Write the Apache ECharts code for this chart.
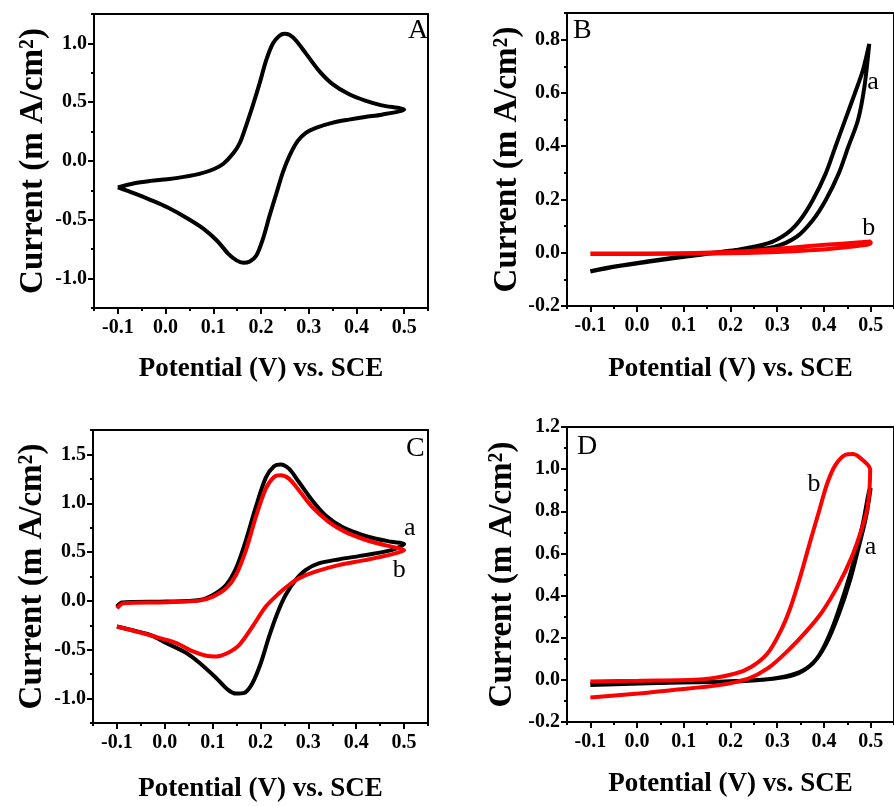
<!DOCTYPE html>
<html>
<head>
<meta charset="utf-8">
<script src="https://cdn.jsdelivr.net/npm/echarts@6/dist/echarts.min.js"></script>
<style>html,body{margin:0;padding:0;background:#fff;}#c{width:894px;height:806px;}</style>
</head>
<body>
<div id="c"></div>
<script>
// ---------- data ----------
const panelNames = ['A', 'B', 'C', 'D'];
const xTicks = [-0.1, 0.0, 0.1, 0.2, 0.3, 0.4, 0.5];
const xMinorTicks = [-0.15, -0.05, 0.05, 0.15, 0.25, 0.35, 0.45, 0.55];
const yTicksA = [-1.0, -0.5, 0.0, 0.5, 1.0];
const yMinorA = [-1.25, -0.75, -0.25, 0.25, 0.75, 1.25];
const yTicksB = [-0.2, 0.0, 0.2, 0.4, 0.6, 0.8];
const yMinorB = [-0.1, 0.1, 0.3, 0.5, 0.7, 0.9];
const yTicksC = [-1.0, -0.5, 0.0, 0.5, 1.0, 1.5];
const yMinorC = [-1.25, -0.75, -0.25, 0.25, 0.75, 1.25, 1.75];
const yTicksD = [-0.2, 0.0, 0.2, 0.4, 0.6, 0.8, 1.0, 1.2];
const yMinorD = [-0.1, 0.1, 0.3, 0.5, 0.7, 0.9, 1.1];

const cvA = [
  [-0.1,-0.225],[-0.0654,-0.189],[-0.0309,-0.169],[0.0037,-0.155],[0.0382,-0.135],[0.0728,-0.107],
  [0.1005,-0.070],[0.1212,-0.023],[0.1419,0.065],[0.1558,0.155],[0.1696,0.310],[0.1834,0.479],
  [0.1972,0.662],[0.2111,0.859],[0.2249,0.999],[0.2387,1.065],[0.2491,1.082],[0.2594,1.073],
  [0.2733,1.025],[0.2940,0.915],[0.3217,0.766],[0.3493,0.656],[0.3839,0.569],[0.4184,0.513],
  [0.4530,0.473],[0.5,0.437],
  [0.453,0.394],[0.418,0.375],[0.384,0.352],[0.349,0.324],[0.315,0.282],[0.294,0.239],
  [0.2767,0.169],[0.2594,0.042],[0.2456,-0.099],[0.2318,-0.282],[0.218,-0.465],[0.2041,-0.662],
  [0.1903,-0.803],[0.1765,-0.854],[0.1627,-0.865],[0.1488,-0.845],[0.1316,-0.789],[0.1074,-0.676],
  [0.0797,-0.577],[0.0452,-0.487],[0.0037,-0.394],[-0.0309,-0.332],[-0.0654,-0.276],[-0.1,-0.225]
];

const cvBa = [
  [-0.1,-0.071],[-0.0448,-0.052],[0.0241,-0.034],[0.0931,-0.017],[0.1621,-0.002],[0.2106,0.004],
  [0.2934,0.022],[0.3416,0.060],[0.376,0.122],[0.4037,0.197],[0.4315,0.297],[0.452,0.397],
  [0.4728,0.497],[0.4866,0.622],[0.497,0.784],
  [0.4832,0.684],[0.4659,0.597],[0.4451,0.497],[0.4244,0.397],[0.4037,0.297],[0.376,0.197],
  [0.3487,0.122],[0.321,0.073],[0.2795,0.035],[0.2106,0.010],[0.1621,0.0],[0.0931,-0.015],
  [0.0241,-0.032],[-0.0448,-0.051],[-0.1,-0.069]
];
const cvBb = [
  [-0.1,-0.0025],[0.0241,-0.0025],[0.1621,0.001],[0.231,0.006],[0.3,0.015],[0.369,0.025],
  [0.4379,0.034],[0.5,0.042],
  [0.5,0.035],[0.4379,0.019],[0.369,0.009],[0.3,0.0025],[0.231,-0.001],[0.0931,-0.004],[-0.1,-0.005]
];

const cvCa = [
  [-0.1,-0.058],[-0.0896,-0.017],[-0.0654,-0.010],[0.0037,-0.007],[0.0728,0.010],[0.1005,0.061],
  [0.1281,0.163],[0.1488,0.333],[0.1696,0.622],[0.1903,0.963],[0.2111,1.262],[0.2283,1.378],
  [0.2422,1.398],[0.2594,1.354],[0.2802,1.218],[0.3078,1.031],[0.3355,0.878],[0.3700,0.759],
  [0.4046,0.690],[0.4392,0.639],[0.4737,0.605],[0.5,0.582],
  [0.4737,0.520],[0.4184,0.469],[0.3631,0.425],[0.3217,0.384],[0.294,0.316],[0.2733,0.214],
  [0.2525,0.061],[0.2352,-0.126],[0.218,-0.364],[0.2007,-0.636],[0.1834,-0.840],[0.1661,-0.942],
  [0.1488,-0.949],[0.1316,-0.908],[0.1074,-0.789],[0.0728,-0.636],[0.0452,-0.534],[0.0037,-0.432],
  [-0.0309,-0.347],[-0.0654,-0.303],[-0.1,-0.262]
];
const cvCb = [
  [-0.1,-0.075],[-0.0862,-0.024],[0.0037,-0.014],[0.0728,0.003],[0.1005,0.044],[0.1281,0.129],
  [0.1488,0.265],[0.1696,0.520],[0.1903,0.861],[0.2111,1.150],[0.2283,1.269],[0.2422,1.286],
  [0.2594,1.252],[0.2802,1.133],[0.3078,0.963],[0.3424,0.810],[0.377,0.707],[0.4115,0.639],
  [0.4461,0.588],[0.4806,0.548],[0.5,0.520],
  [0.4737,0.476],[0.4184,0.418],[0.3631,0.367],[0.3147,0.299],[0.2802,0.231],[0.2594,0.163],
  [0.2387,0.078],[0.2111,-0.058],[0.1834,-0.262],[0.1558,-0.449],[0.1281,-0.541],[0.1074,-0.568],
  [0.0866,-0.561],[0.059,-0.517],[0.0244,-0.432],[-0.0101,-0.381],[-0.0516,-0.323],[-0.1,-0.262]
];

const cvDa = [
  [-0.1,-0.024],[0.024,-0.016],[0.162,-0.010],[0.2106,-0.006],[0.2795,0.003],[0.328,0.022],
  [0.3623,0.054],[0.39,0.118],[0.4176,0.245],[0.445,0.421],[0.466,0.580],[0.4832,0.740],
  [0.497,0.900],[0.5,0.910],
  [0.490,0.772],[0.476,0.644],[0.4555,0.469],[0.4315,0.310],[0.4037,0.166],[0.376,0.078],
  [0.3348,0.022],[0.2795,0.003],[0.231,-0.005],[0.093,-0.011],[-0.017,-0.012],[-0.1,-0.020]
];
const cvDb = [
  [-0.1,-0.008],[0.0035,-0.004],[0.1416,0.003],[0.2106,0.030],[0.245,0.062],[0.2795,0.126],
  [0.307,0.230],[0.328,0.341],[0.3487,0.485],[0.369,0.644],[0.390,0.804],[0.407,0.932],
  [0.4245,1.019],[0.445,1.067],[0.4625,1.072],[0.4832,1.043],[0.499,0.999],
  [0.4935,0.820],[0.4797,0.708],[0.459,0.580],[0.4315,0.453],[0.3969,0.325],[0.3623,0.230],
  [0.3209,0.134],[0.2795,0.054],[0.2381,0.006],[0.176,-0.025],[0.0725,-0.049],[0.0035,-0.065],
  [-0.1,-0.084]
];

const curveLabelsB = [['a', 0.505, 0.642], ['b', 0.496, 0.094]];
const curveLabelsC = [['a', 0.512, 0.745], ['b', 0.490, 0.311]];
const curveLabelsD = [['b', 0.379, 0.931], ['a', 0.500, 0.630]];

// ---------- layout / style ----------
const grids = [
  {left: 94, top: 14, width: 334, height: 294},
  {left: 567, top: 13, width: 337, height: 293},
  {left: 93, top: 430, width: 335, height: 293},
  {left: 567, top: 427, width: 337, height: 295}
];
const yRanges = [[-1.25, 1.25], [-0.2, 0.9], [-1.25, 1.75], [-0.2, 1.2]];
const yMajor = [yTicksA, yTicksB, yTicksC, yTicksD];
const yMinor = [yMinorA, yMinorB, yMinorC, yMinorD];
const xNameGap = [48, 50, 53, 49];
const yNameGap = [44, 40, 44, 48];
const letterPos = [[408, 17], [573, 17], [406, 435], [577, 433]];

const SERIF = '"Liberation Serif", "Times New Roman", serif';
const tickLabel = {fontFamily: SERIF, fontWeight: 'bold', fontSize: 20, color: '#000'};

const gridOpt = [], xAxes = [], yAxes = [], series = [], titles = [];
grids.forEach((g, i) => {
  gridOpt.push(Object.assign({show: true, borderColor: '#000', borderWidth: 2, backgroundColor: 'transparent'}, g));
  gridOpt.push(Object.assign({show: false}, g));
  const gi = i * 2;
  xAxes.push({
    type: 'value', gridIndex: gi, min: -0.15, max: 0.55, position: 'bottom',
    splitLine: {show: false},
    axisLine: {show: true, onZero: false, lineStyle: {color: '#000', width: 2}},
    axisTick: {show: true, length: 6, customValues: xTicks, lineStyle: {color: '#000', width: 2}},
    axisLabel: {show: true, customValues: xTicks, margin: 10, formatter: v => v.toFixed(1), ...tickLabel},
    name: 'Potential (V) vs. SCE', nameLocation: 'middle', nameGap: xNameGap[i],
    nameTextStyle: {fontFamily: SERIF, fontWeight: 'bold', fontSize: 27, color: '#000'}
  });
  xAxes.push({
    type: 'value', gridIndex: gi + 1, min: -0.15, max: 0.55, position: 'bottom',
    splitLine: {show: false}, axisLine: {show: false, onZero: false},
    axisTick: {show: true, length: 3, customValues: xMinorTicks, lineStyle: {color: '#000', width: 2}},
    axisLabel: {show: false}
  });
  yAxes.push({
    type: 'value', gridIndex: gi, min: yRanges[i][0], max: yRanges[i][1], position: 'left',
    splitLine: {show: false},
    axisLine: {show: true, onZero: false, lineStyle: {color: '#000', width: 2}},
    axisTick: {show: true, length: 6, customValues: yMajor[i], lineStyle: {color: '#000', width: 2}},
    axisLabel: {show: true, customValues: yMajor[i], margin: 7, formatter: v => v.toFixed(1), ...tickLabel},
    name: 'Current (m A/cm\u00B2)', nameLocation: 'middle', nameGap: yNameGap[i],
    nameTextStyle: {fontFamily: SERIF, fontWeight: 'bold', fontSize: 33, color: '#000'}
  });
  yAxes.push({
    type: 'value', gridIndex: gi + 1, min: yRanges[i][0], max: yRanges[i][1], position: 'left',
    splitLine: {show: false}, axisLine: {show: false, onZero: false},
    axisTick: {show: true, length: 3, customValues: yMinor[i], lineStyle: {color: '#000', width: 2}},
    axisLabel: {show: false}
  });
  titles.push({
    text: panelNames[i], left: letterPos[i][0], top: letterPos[i][1], padding: 0,
    textStyle: {fontFamily: SERIF, fontWeight: 'normal', fontSize: 28, color: '#000'}
  });
});

function cv(data, axisIdx, color, z) {
  return {
    type: 'line', xAxisIndex: axisIdx, yAxisIndex: axisIdx, data: data,
    showSymbol: false, smooth: 0.3, z: z, silent: true,
    lineStyle: {color: color, width: 4}, itemStyle: {color: color}, animation: false
  };
}
function labels(list, axisIdx) {
  return {
    type: 'scatter', xAxisIndex: axisIdx, yAxisIndex: axisIdx, symbolSize: 0, silent: true,
    itemStyle: {color: '#000', opacity: 0},
    data: list.map(l => ({name: l[0], value: [l[1], l[2]]})),
    label: {show: true, position: 'inside', formatter: p => p.name,
      fontFamily: SERIF, fontSize: 26, color: '#000', textBorderWidth: 0, opacity: 1},
    z: 10, animation: false
  };
}

series.push(cv(cvA, 0, '#000', 3));
series.push(cv(cvBa, 2, '#000', 3));
series.push(cv(cvBb, 2, '#ff0000', 4));
series.push(labels(curveLabelsB, 2));
series.push(cv(cvCa, 4, '#000', 3));
series.push(cv(cvCb, 4, '#ff0000', 4));
series.push(labels(curveLabelsC, 4));
series.push(cv(cvDa, 6, '#000', 3));
series.push(cv(cvDb, 6, '#ff0000', 4));
series.push(labels(curveLabelsD, 6));

const chart = echarts.init(document.getElementById('c'), null, {renderer: 'canvas'});
chart.setOption({
  backgroundColor: '#fff',
  animation: false,
  title: titles,
  grid: gridOpt,
  xAxis: xAxes,
  yAxis: yAxes,
  series: series
});
</script>
</body>
</html>
